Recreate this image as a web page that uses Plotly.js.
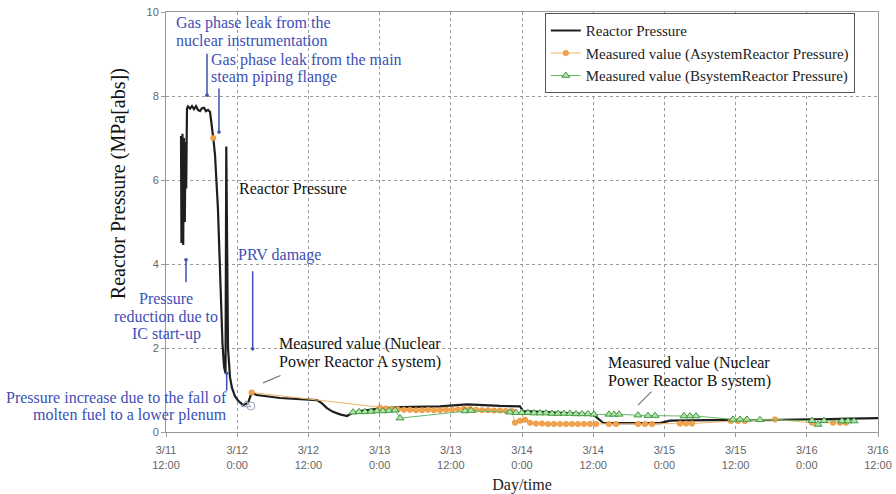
<!DOCTYPE html>
<html>
<head>
<meta charset="utf-8">
<script src="https://cdn.plot.ly/plotly-3.0.1.min.js"></script>
<style>html,body{margin:0;padding:0;background:#fff;}#chart{width:896px;height:494px;}</style>
</head>
<body>
<div id="chart"></div>
<script>
// x values: hours elapsed since 3/11 12:00
var tickHours = [0, 12, 24, 36, 48, 60, 72, 84, 96, 108, 120];
var tickLabels = ['3/11<br>12:00', '3/12<br>0:00', '3/12<br>12:00', '3/13<br>0:00', '3/13<br>12:00',
  '3/14<br>0:00', '3/14<br>12:00', '3/15<br>0:00', '3/15<br>12:00', '3/16<br>0:00', '3/16<br>12:00'];
var yTicks = [0, 2, 4, 6, 8, 10];

var reactorHours = [2.53, 2.61, 2.78, 2.90, 3.03, 3.17, 3.29, 3.40, 3.54, 3.71, 4.04, 4.38, 4.72, 5.06, 5.39, 5.73,
  6.07, 6.40, 6.74, 7.08, 7.42, 7.75, 7.97, 8.26, 8.51, 8.76, 9.02, 9.27, 9.52, 9.78, 10.03, 10.16, 10.28, 10.45,
  10.79, 11.12, 11.63, 12.13, 12.98, 13.82, 14.44, 15.29, 19.21, 22.58, 25.45, 26.29, 27.13, 28.15, 29.33, 30.51,
  31.35, 32.70, 35.56, 39.44, 42.81, 46.18, 50.73, 52.92, 56.29, 59.66, 60.17, 63.03, 66.40, 69.78, 71.97, 73.65,
  75.34, 79.89, 83.26, 84.94, 90.0, 95.06, 100.11, 105.17, 108.03, 111.91, 115.28, 120];
var reactorMPa = [7.05, 4.5, 7.1, 4.45, 7.0, 5.0, 6.9, 5.8, 7.7, 7.75, 7.7, 7.76, 7.69, 7.76, 7.67, 7.64,
  7.71, 7.72, 7.64, 7.67, 7.62, 7.31, 7.0, 6.6, 6.0, 5.3, 4.2, 3.0, 2.1, 1.55, 1.4, 6.8, 4.0, 2.0,
  1.3, 1.05, 0.85, 0.75, 0.64, 0.69, 0.94, 0.88, 0.81, 0.78, 0.76, 0.68, 0.57, 0.48, 0.42, 0.38,
  0.45, 0.50, 0.55, 0.59, 0.60, 0.61, 0.66, 0.64, 0.62, 0.61, 0.50, 0.48, 0.46, 0.44, 0.42, 0.22,
  0.21, 0.21, 0.21, 0.27, 0.28, 0.29, 0.28, 0.30, 0.31, 0.31, 0.32, 0.33];

// null = gap in the measured series (isolated first reading)
var aHours = [7.97, null, 14.44, 36.07, 37.08, 38.09, 39.10, 40.11, 41.12, 42.13, 43.15, 44.16, 45.17, 46.18, 47.19,
  48.20, 49.21, 50.22, 51.24, 52.25, 53.26, 54.27, 55.28, 56.29, 57.30, 58.31, 58.82, 59.66, 60.51, 61.35, 62.36,
  63.37, 64.38, 65.39, 66.40, 67.42, 68.43, 69.44, 70.45, 71.46, 72.47, 74.66, 75.84, 79.55, 80.73, 81.91,
  86.63, 87.64, 88.65, 95.22, 96.40, 97.58, 102.64, 108.88, 112.42, 113.60, 114.61];
var aMPa = [7.0, null, 0.94, 0.58, 0.56, 0.55, 0.54, 0.53, 0.53, 0.52, 0.52, 0.53, 0.52, 0.52, 0.53,
  0.53, 0.54, 0.56, 0.55, 0.53, 0.52, 0.52, 0.51, 0.51, 0.50, 0.50, 0.22, 0.27, 0.29, 0.22, 0.20,
  0.20, 0.19, 0.19, 0.19, 0.19, 0.19, 0.19, 0.19, 0.19, 0.19, 0.19, 0.19, 0.19, 0.19, 0.19,
  0.20, 0.20, 0.20, 0.26, 0.26, 0.26, 0.30, 0.22, 0.22, 0.22, 0.22];

var bHours = [31.52, 32.53, 33.54, 34.55, 35.56, 36.57, 37.58, 38.60, 39.44, 50.39, 51.40, 57.98, 58.99, 60.00,
  61.01, 62.02, 63.03, 64.04, 65.06, 66.07, 67.08, 68.09, 69.10, 70.11, 71.12, 72.13, 74.66, 75.51, 76.35,
  79.55, 81.24, 82.42, 87.30, 88.31, 89.33, 95.56, 96.74, 97.92, 100.11, 108.88, 109.89, 110.90, 113.93, 114.94, 115.96];
var bMPa = [0.47, 0.48, 0.48, 0.49, 0.50, 0.50, 0.51, 0.52, 0.33, 0.50, 0.51, 0.47, 0.46, 0.46,
  0.46, 0.45, 0.45, 0.45, 0.44, 0.44, 0.44, 0.44, 0.43, 0.43, 0.43, 0.42, 0.42, 0.42, 0.42,
  0.40, 0.39, 0.39, 0.38, 0.38, 0.38, 0.30, 0.30, 0.30, 0.29, 0.27, 0.18, 0.27, 0.26, 0.26, 0.26];

// faint open markers near the minimum after the drop
var faintHours = [13.5, 14.3];
var faintMPa = [0.65, 0.62];
var faintSymbols = ['triangle-up-open', 'circle-open'];

var SERIF = "'Liberation Serif', 'Times New Roman', Times, serif";
var SANS = "'Liberation Sans', Arial, sans-serif";
var BLUE = '#3e4fb5';

var traces = [
  {x: reactorHours, y: reactorMPa, mode: 'lines', name: 'Reactor Pressure',
   line: {color: '#1e1e1e', width: 2.2}},
  {x: aHours, y: aMPa, mode: 'lines+markers', name: 'Measured value (AsystemReactor Pressure)',
   connectgaps: false,
   line: {color: '#f3b46a', width: 1},
   marker: {symbol: 'circle', size: 5.5, color: '#f2a24a', line: {color: '#e08a30', width: 0.5}}},
  {x: bHours, y: bMPa, mode: 'lines+markers', name: 'Measured value (BsystemReactor Pressure)',
   line: {color: '#68b868', width: 1},
   marker: {symbol: 'triangle-up', size: 7, color: '#b5e0ae', line: {color: '#3d9a3d', width: 1}}},
  {x: faintHours, y: faintMPa, mode: 'markers', showlegend: false, hoverinfo: 'skip',
   marker: {symbol: faintSymbols, size: 8, color: '#9aa0c0', line: {width: 1}}}
];

function arrow(x, y, ax, ay) {
  return {x: x, y: y, xref: 'x', yref: 'y', text: '', showarrow: true, ax: ax, ay: ay,
    arrowhead: 6, arrowsize: 0.6, arrowwidth: 1.5, arrowcolor: BLUE};
}
function leader(x, y, ax, ay) {
  return {x: x, y: y, xref: 'x', yref: 'y', text: '', showarrow: true, ax: ax, ay: ay,
    arrowhead: 0, arrowwidth: 1.2, arrowcolor: '#777'};
}
function label(txt, x, y, xa, color) {
  return {x: x, y: y, xref: 'x', yref: 'y', text: txt, showarrow: false, xanchor: xa, yanchor: 'middle',
    font: {family: SERIF, size: 16, color: color}, borderpad: 0};
}

var annotations = [
  label('Gas phase leak from the', 1.52, 9.74, 'left', BLUE),
  label('nuclear instrumentation', 1.52, 9.31, 'left', BLUE),
  label('Gas phase leak from the main', 7.42, 8.86, 'left', BLUE),
  label('steam piping flange', 7.42, 8.45, 'left', BLUE),
  label('Reactor Pressure', 12.13, 5.79, 'left', '#111'),
  label('PRV damage', 11.97, 4.21, 'left', BLUE),
  label('Pressure', 0.0, 3.19, 'center', BLUE),
  label('reduction due to', 0.0, 2.76, 'center', BLUE),
  label('IC start-up', 0.0, 2.33, 'center', BLUE),
  label('Pressure increase due to the fall of', 10.45, 0.81, 'right', BLUE),
  label('molten fuel to a lower plenum', 10.45, 0.40, 'right', BLUE),
  label('Measured value (Nuclear', 18.88, 2.10, 'left', '#111'),
  label('Power Reactor A system)', 18.88, 1.67, 'left', '#111'),
  label('Measured value (Nuclear', 74.33, 1.64, 'left', '#111'),
  label('Power Reactor B system)', 74.33, 1.21, 'left', '#111'),
  arrow(6.91, 8.02, 0, -43),
  arrow(8.93, 7.14, 0, -45),
  arrow(14.61, 1.98, 0, -79),
  arrow(3.37, 4.10, 0, 24),
  arrow(10.23, 1.40, 0, 19),
  leader(16.35, 1.17, 19, -8),
  leader(79.55, 0.64, 15, -15),
  {xref: 'paper', yref: 'paper', x: -0.0674, y: 0.590, text: 'Reactor Pressure (MPa[abs])',
   textangle: -90, showarrow: false, xanchor: 'center', yanchor: 'middle',
   font: {family: SERIF, size: 20, color: '#111'}}
];

var layout = {
  width: 896, height: 494,
  margin: {l: 166, r: 18, t: 12, b: 62},
  paper_bgcolor: '#fff', plot_bgcolor: '#fff',
  showlegend: true,
  legend: {x: 0.532, y: 0.997, xanchor: 'left', yanchor: 'top', bgcolor: '#fff',
    bordercolor: '#555', borderwidth: 1, font: {family: SERIF, size: 15, color: '#222'},
    tracegroupgap: 0, entrywidth: 340},
  xaxis: {range: [0, 120], tickmode: 'array', tickvals: tickHours, ticktext: tickLabels,
    tickfont: {family: SANS, size: 11, color: '#666'}, showgrid: true, gridcolor: '#9a9a9a',
    griddash: 'dot', gridwidth: 1, zeroline: false, showline: true, linecolor: '#999', mirror: true,
    ticks: 'outside', ticklen: 4, tickcolor: '#999', ticklabelstandoff: 4,
    title: {text: 'Day/time', font: {family: SERIF, size: 16, color: '#222'}, standoff: 9}},
  yaxis: {range: [0, 10], tickmode: 'array', tickvals: yTicks,
    tickfont: {family: SANS, size: 11, color: '#666'}, showgrid: true, gridcolor: '#9a9a9a',
    griddash: 'dot', gridwidth: 1, zeroline: false, showline: true, linecolor: '#999', mirror: true,
    ticks: 'outside', ticklen: 4, tickcolor: '#999'},
  annotations: annotations
};

Plotly.newPlot('chart', traces, layout, {displayModeBar: false, staticPlot: true});
</script>
</body>
</html>
